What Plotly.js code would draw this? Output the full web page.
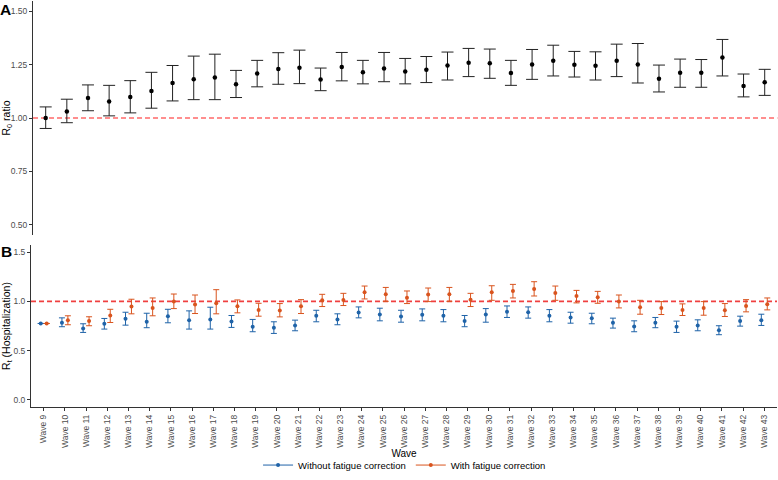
<!DOCTYPE html>
<html>
<head>
<meta charset="utf-8">
<script src="https://cdn.plot.ly/plotly-3.0.1.min.js"></script>
<style>html,body{margin:0;padding:0;background:#fff;}#chart{width:778px;height:480px;}</style>
</head>
<body>
<div id="chart"></div>
<script>
const waves = ['Wave 9','Wave 10','Wave 11','Wave 12','Wave 13','Wave 14','Wave 15','Wave 16','Wave 17','Wave 18',
  'Wave 19','Wave 20','Wave 21','Wave 22','Wave 23','Wave 24','Wave 25','Wave 26','Wave 27','Wave 28',
  'Wave 29','Wave 30','Wave 31','Wave 32','Wave 33','Wave 34','Wave 35','Wave 36','Wave 37','Wave 38',
  'Wave 39','Wave 40','Wave 41','Wave 42','Wave 43'];

// Panel A: R0 ratio
const r0Est = [1.000,1.030,1.094,1.077,1.099,1.127,1.164,1.181,1.190,1.158,1.208,1.229,1.236,1.180,1.239,1.214,1.232,1.218,1.226,1.246,1.259,1.256,1.211,1.251,1.268,1.250,1.245,1.268,1.251,1.184,1.212,1.212,1.284,1.150,1.167];
const r0Hi  = [1.052,1.088,1.155,1.153,1.175,1.214,1.246,1.290,1.299,1.223,1.270,1.306,1.318,1.234,1.307,1.270,1.307,1.279,1.288,1.309,1.326,1.323,1.270,1.321,1.341,1.312,1.310,1.346,1.349,1.248,1.276,1.274,1.368,1.206,1.228];
const r0Lo  = [0.951,0.978,1.034,1.010,1.024,1.046,1.080,1.086,1.086,1.096,1.146,1.158,1.161,1.128,1.174,1.160,1.170,1.160,1.166,1.178,1.194,1.186,1.153,1.181,1.197,1.192,1.178,1.194,1.164,1.122,1.144,1.144,1.197,1.099,1.106];

// Panel B: Rt (Hospitalization), without fatigue correction
const rtNoEst = [0.776,0.783,0.726,0.773,0.823,0.793,0.850,0.810,0.817,0.796,0.743,0.733,0.756,0.854,0.817,0.887,0.867,0.847,0.864,0.854,0.800,0.867,0.894,0.890,0.854,0.837,0.830,0.783,0.746,0.783,0.743,0.756,0.706,0.800,0.810];
const rtNoHi  = [0.776,0.833,0.773,0.827,0.890,0.880,0.920,0.904,0.941,0.857,0.817,0.793,0.810,0.910,0.874,0.944,0.931,0.910,0.924,0.917,0.857,0.927,0.954,0.944,0.917,0.890,0.880,0.830,0.803,0.837,0.800,0.813,0.753,0.850,0.870];
const rtNoLo  = [0.776,0.743,0.685,0.719,0.759,0.733,0.783,0.719,0.719,0.736,0.692,0.675,0.702,0.793,0.763,0.833,0.803,0.789,0.803,0.793,0.743,0.789,0.837,0.830,0.793,0.779,0.773,0.729,0.692,0.733,0.685,0.702,0.662,0.749,0.756];

// Panel B: with fatigue correction
const rtFcEst = [0.776,0.810,0.800,0.857,0.948,0.934,0.998,0.968,0.981,0.951,0.914,0.907,0.951,1.011,1.015,1.092,1.072,1.038,1.069,1.072,1.018,1.092,1.106,1.126,1.086,1.055,1.042,0.998,0.941,0.934,0.914,0.934,0.910,0.954,0.971];
const rtFcHi  = [0.776,0.854,0.844,0.920,1.022,1.035,1.075,1.065,1.119,1.015,0.981,0.978,1.018,1.072,1.082,1.156,1.142,1.106,1.136,1.142,1.082,1.159,1.173,1.200,1.156,1.112,1.102,1.065,1.011,0.998,0.975,0.998,0.978,1.018,1.035];
const rtFcLo  = [0.776,0.763,0.753,0.786,0.874,0.854,0.927,0.877,0.874,0.884,0.850,0.843,0.877,0.948,0.958,1.025,1.001,0.978,0.998,1.001,0.948,1.011,1.035,1.055,1.011,0.985,0.981,0.934,0.870,0.867,0.857,0.860,0.847,0.894,0.914];

const seriesNames = ['Without fatigue correction','With fatigue correction'];
const BLUE = '#1F63A8', ORANGE = '#D9541E';
const DODGE = 0.14;

const idx = waves.map((_, i) => i);
const up = (hi, est) => hi.map((h, i) => Math.max(0, h - est[i]));
const dn = (lo, est) => lo.map((l, i) => Math.max(0, est[i] - l));

const traces = [
  {
    type: 'scatter', mode: 'markers', x: idx, y: r0Est, xaxis: 'x', yaxis: 'y',
    marker: {color: '#000', size: 4.5},
    error_y: {type: 'data', symmetric: false, array: up(r0Hi, r0Est), arrayminus: dn(r0Lo, r0Est),
              color: '#222', thickness: 1, width: 6},
    showlegend: false, hoverinfo: 'skip'
  },
  {
    type: 'scatter', mode: 'markers', x: idx.map(i => i - DODGE), y: rtNoEst, xaxis: 'x2', yaxis: 'y2',
    marker: {color: BLUE, size: 4},
    error_y: {type: 'data', symmetric: false, array: up(rtNoHi, rtNoEst), arrayminus: dn(rtNoLo, rtNoEst),
              color: BLUE, thickness: 1, width: 3},
    showlegend: false, name: seriesNames[0]
  },
  {
    type: 'scatter', mode: 'markers', x: idx.map(i => i + DODGE), y: rtFcEst, xaxis: 'x2', yaxis: 'y2',
    marker: {color: ORANGE, size: 4},
    error_y: {type: 'data', symmetric: false, array: up(rtFcHi, rtFcEst), arrayminus: dn(rtFcLo, rtFcEst),
              color: ORANGE, thickness: 1, width: 3},
    showlegend: false, name: seriesNames[1]
  },
  // legend keys (pointrange style)
  {type: 'scatter', mode: 'lines+markers', x: [null], y: [null], xaxis: 'x2', yaxis: 'y2',
   name: seriesNames[0], line: {color: BLUE, width: 1}, marker: {color: BLUE, size: 4}},
  {type: 'scatter', mode: 'lines+markers', x: [null], y: [null], xaxis: 'x2', yaxis: 'y2',
   name: seriesNames[1], line: {color: ORANGE, width: 1}, marker: {color: ORANGE, size: 4}}
];

const W = 778, H = 480;
const FAM = 'Liberation Sans, Arial, sans-serif';
const tickFont = {family: FAM, size: 8.5, color: '#4D4D4D'};
const ytitleFont = {family: FAM, size: 10.5, color: '#000'};
const xtitleFont = {family: FAM, size: 10, color: '#000'};

const layout = {
  width: W, height: H,
  margin: {l: 0, r: 0, t: 0, b: 0},
  paper_bgcolor: '#fff', plot_bgcolor: '#fff',
  font: {family: FAM},
  showlegend: true,
  legend: {orientation: 'h', x: 0.52, xanchor: 'center', y: 1 - 467 / H, yanchor: 'middle',
           font: {family: FAM, size: 9.5, color: '#000'}, itemwidth: 30, tracegroupgap: 0},
  xaxis: {
    domain: [33 / W, 777.4 / W], anchor: 'y', range: [-0.6, waves.length - 0.4],
    showline: false, showticklabels: false, ticks: '', showgrid: false, zeroline: false, fixedrange: true
  },
  yaxis: {
    domain: [1 - 236.4 / H, 1 - 0.6 / H], anchor: 'x', range: [0.45, 1.55],
    tickvals: [0.5, 0.75, 1.0, 1.25, 1.5], tickformat: '.2f',
    showline: true, linecolor: '#333', linewidth: 1, ticks: 'outside', ticklen: 3, tickcolor: '#333',
    showgrid: false, zeroline: false, tickfont: tickFont,
    title: {text: 'R<sub>0</sub> ratio', font: ytitleFont, standoff: 4}
  },
  xaxis2: {
    domain: [31 / W, 777 / W], anchor: 'y2', range: [-0.6, waves.length - 0.4],
    tickvals: idx, ticktext: waves, tickangle: -90,
    showline: true, linecolor: '#333', linewidth: 1, ticks: 'outside', ticklen: 3, tickcolor: '#333',
    showgrid: false, zeroline: false, tickfont: tickFont,
    title: {text: 'Wave', font: xtitleFont, standoff: 2}
  },
  yaxis2: {
    domain: [1 - 409 / H, 1 - 245.8 / H], anchor: 'x2', range: [-0.075, 1.575],
    tickvals: [0, 0.5, 1.0, 1.5], tickformat: '.1f',
    showline: true, linecolor: '#333', linewidth: 1, ticks: 'outside', ticklen: 3, tickcolor: '#333',
    showgrid: false, zeroline: false, tickfont: tickFont,
    title: {text: 'R<sub>t</sub> (Hospitalization)', font: ytitleFont, standoff: 4}
  },
  shapes: [
    {type: 'line', xref: 'x domain', yref: 'y', x0: 0, x1: 1, y0: 1, y1: 1,
     line: {color: '#FF1E1E', width: 1.2, dash: '5px,3px'}, layer: 'below'},
    {type: 'line', xref: 'x2 domain', yref: 'y2', x0: 0, x1: 1, y0: 1, y1: 1,
     line: {color: '#F04040', width: 1.6, dash: '5px,3px'}, layer: 'below'}
  ],
  annotations: [
    {text: '<b>A</b>', xref: 'paper', yref: 'paper', x: 0, y: 1, xanchor: 'left', yanchor: 'top',
     xshift: -1, borderpad: 0, showarrow: false, font: {family: FAM, size: 15.5, color: '#000'}},
    {text: '<b>B</b>', xref: 'paper', yref: 'paper', x: 0, y: 1 - 243 / H, xanchor: 'left', yanchor: 'top',
     xshift: 0, borderpad: 0, showarrow: false, font: {family: FAM, size: 15.5, color: '#000'}}
  ]
};

Plotly.newPlot('chart', traces, layout, {displayModeBar: false, staticPlot: true});
</script>
</body>
</html>
